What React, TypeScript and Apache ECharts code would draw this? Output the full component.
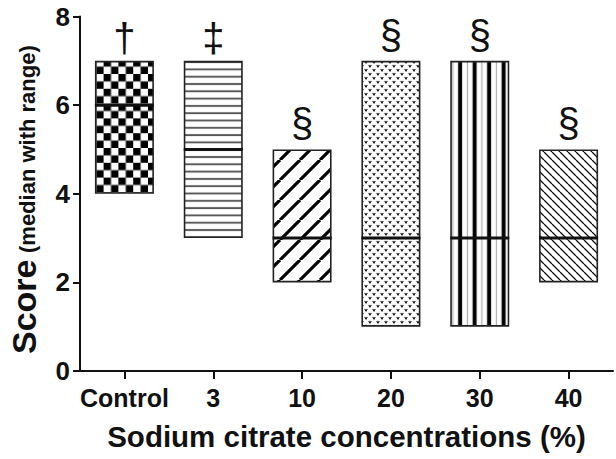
import React, { useEffect, useRef } from 'react';
import * as echarts from 'echarts';

const categories = ['Control', '3', '10', '20', '30', '40'];
const minValues = [4, 3, 2, 1, 1, 2];
const maxValues = [7, 7, 5, 7, 7, 5];
const medianValues = [6, 5, 3, 3, 3, 3];
const annotations = ['†', '‡', '§', '§', '§', '§'];
const yMin = 0;
const yMax = 8;
const yInterval = 2;
const yTitleMain = 'Score';
const yTitleSub = '(median with range)';
const xTitle = 'Sodium citrate concentrations (%)';

const FONT = '"Liberation Sans", Arial, Helvetica, sans-serif';
const BAR_WIDTH = 59;
const RES = 4;

type Draw = (ctx: CanvasRenderingContext2D, w: number, h: number) => void;

function makePattern(w: number, h: number, draw: Draw) {
  const c = document.createElement('canvas');
  c.width = Math.round(w * RES);
  c.height = Math.round(h * RES);
  const ctx = c.getContext('2d') as CanvasRenderingContext2D;
  ctx.scale(c.width / w, c.height / h);
  ctx.fillStyle = '#fff';
  ctx.fillRect(0, 0, w, h);
  ctx.fillStyle = '#000';
  ctx.strokeStyle = '#000';
  draw(ctx, w, h);
  return { image: c.toDataURL(), imageWidth: w, imageHeight: h, repeat: 'repeat' };
}

function buildPatterns() {
  const checker = makePattern(14.8, 14.8, (ctx, w) => {
    const s = w / 2;
    ctx.fillRect(0, 0, s, s);
    ctx.fillRect(s, s, s, s);
  });
  const horiz = makePattern(8, 7.3, (ctx, w) => {
    ctx.fillStyle = '#1a1a1a';
    ctx.fillRect(0, 3, w, 1.4);
  });
  const thickFwd = makePattern(20, 20, (ctx, w) => {
    ctx.lineWidth = 3.2;
    for (const k of [-1, 0, 1]) {
      ctx.beginPath();
      ctx.moveTo(k * w, w);
      ctx.lineTo(k * w + w, 0);
      ctx.stroke();
    }
  });
  const dots = makePattern(8, 8, (ctx) => {
    ctx.lineWidth = 1.1;
    ctx.strokeStyle = '#111';
    for (const [x, y] of [[2, 2], [6, 6]]) {
      ctx.beginPath();
      ctx.moveTo(x - 1.3, y - 1);
      ctx.lineTo(x, y + 1);
      ctx.lineTo(x + 1.3, y - 1);
      ctx.stroke();
    }
  });
  const vert = makePattern(14.5, 10, (ctx, w, h) => {
    ctx.fillRect(8.5, 0, 4, h);
    ctx.fillStyle = '#999';
    ctx.fillRect(3, 0, 1, h);
  });
  const thinBack = makePattern(8, 8, (ctx, w) => {
    ctx.lineWidth = 1.3;
    ctx.strokeStyle = '#111';
    for (const k of [-1, 0, 1]) {
      ctx.beginPath();
      ctx.moveTo(k * w, 0);
      ctx.lineTo(k * w + w, w);
      ctx.stroke();
    }
  });
  return [checker, horiz, thickFwd, dots, vert, thinBack];
}

export default function App() {
  const ref = useRef<HTMLDivElement>(null);
  useEffect(() => {
    if (!ref.current) return;
    const chart = echarts.init(ref.current, null, { renderer: 'svg' });
    const patterns = buildPatterns();
    const option: any = {
      animation: false,
      backgroundColor: '#fff',
      grid: { left: 80, right: 3, top: 16.5, bottom: 88, containLabel: false, outerBoundsMode: 'none' },
      graphic: [
        {
          type: 'text',
          x: 24,
          y: 354,
          rotation: Math.PI / 2,
          style: {
            text: yTitleMain,
            font: `bold 34px ${FONT}`,
            fill: '#111',
            textAlign: 'left',
            textVerticalAlign: 'middle',
          },
        },
        {
          type: 'text',
          x: 27.5,
          y: 253,
          rotation: Math.PI / 2,
          style: {
            text: yTitleSub,
            font: `bold 22px ${FONT}`,
            fill: '#111',
            textAlign: 'left',
            textVerticalAlign: 'middle',
          },
        },
      ],
      xAxis: {
        type: 'category',
        data: categories,
        name: xTitle,
        nameLocation: 'middle',
        nameGap: 50,
        nameTextStyle: { fontFamily: FONT, fontWeight: 'bold', fontSize: 29.5, color: '#111' },
        axisLine: { show: true, lineStyle: { color: '#111', width: 2 } },
        axisTick: { show: true, alignWithLabel: true, interval: 0, length: 8, lineStyle: { color: '#111', width: 2 } },
        axisLabel: { interval: 0, fontFamily: FONT, fontWeight: 'bold', fontSize: 25, color: '#111', margin: 14 },
        splitLine: { show: false },
      },
      yAxis: {
        type: 'value',
        min: yMin,
        max: yMax,
        interval: yInterval,
        axisLine: { show: true, lineStyle: { color: '#111', width: 2 } },
        axisTick: { show: true, length: 7, lineStyle: { color: '#111', width: 2 } },
        axisLabel: { fontFamily: FONT, fontWeight: 'bold', fontSize: 26, color: '#111', margin: 10 },
        splitLine: { show: false },
      },
      series: [
        {
          type: 'bar',
          stack: 'range',
          barWidth: BAR_WIDTH,
          data: minValues,
          itemStyle: { color: 'transparent' },
          silent: true,
        },
        {
          type: 'bar',
          stack: 'range',
          barWidth: BAR_WIDTH,
          data: maxValues.map((mx, i) => ({
            value: mx - minValues[i],
            itemStyle: { color: patterns[i] },
            label: { distance: annotations[i] === '§' ? 6 : 3 },
          })),
          itemStyle: { borderColor: '#222', borderWidth: 1.6 },
          label: {
            show: true,
            position: 'top',
            distance: 3,
            formatter: (p: any) => annotations[p.dataIndex],
            fontFamily: FONT,
            fontSize: 40,
            color: '#111',
          },
        },
        {
          type: 'custom',
          z: 5,
          data: medianValues.map((m, i) => [i, m]),
          renderItem: (params: any, api: any) => {
            const p = api.coord([api.value(0), api.value(1)]);
            return {
              type: 'line',
              shape: { x1: p[0] - BAR_WIDTH / 2, y1: p[1], x2: p[0] + BAR_WIDTH / 2, y2: p[1] },
              style: { stroke: '#111', lineWidth: 3 },
            };
          },
        },
      ],
    };
    chart.setOption(option);
    return () => chart.dispose();
  }, []);
  return <div ref={ref} style={{ position: 'absolute', left: 0, top: 0, width: 616, height: 459 }} />;
}
